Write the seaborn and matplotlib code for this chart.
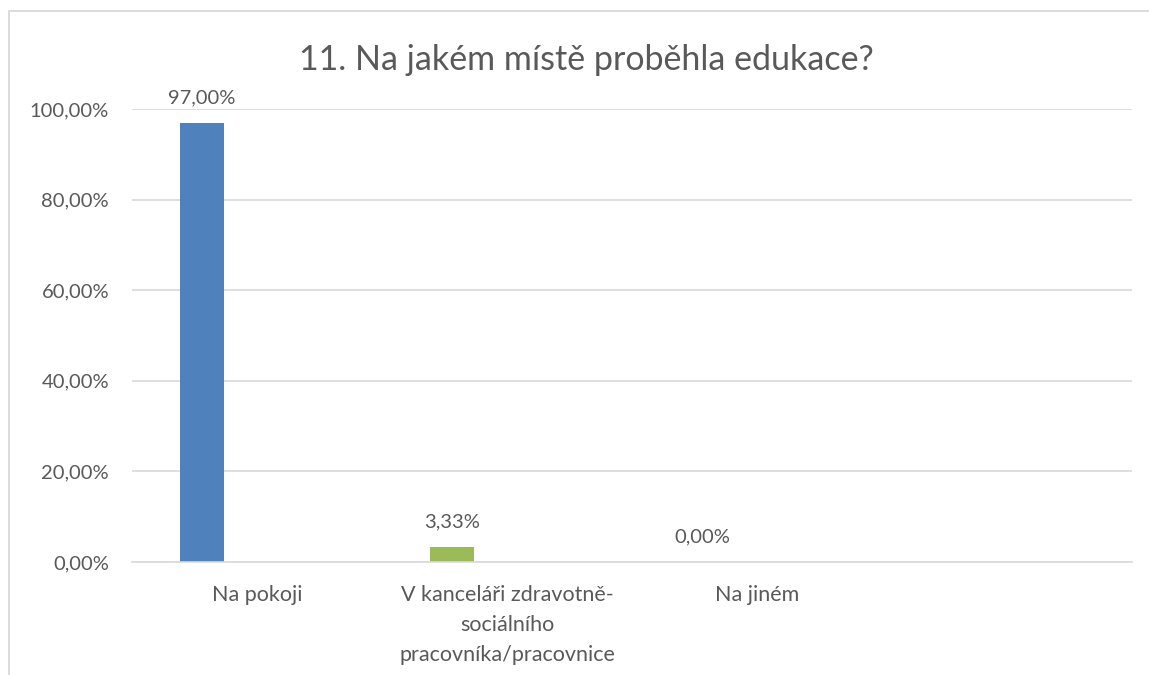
import matplotlib
matplotlib.use("Agg")
import matplotlib.pyplot as plt
from matplotlib.lines import Line2D
import seaborn as sns
import pandas as pd

# ---- data ----
title = "11. Na jakém místě proběhla edukace?"
categories = ["Na pokoji", "V kanceláři zdravotně-\nsociálního\npracovníka/pracovnice", "Na jiném", ""]
values = [97.00, 3.33, 0.00, None]
value_labels = ["97,00%", "3,33%", "0,00%", None]
series = ["Řada1", "Řada2", "Řada3"]
y_ticks = [0, 20, 40, 60, 80, 100]
y_tick_labels = ["0,00%", "20,00%", "40,00%", "60,00%", "80,00%", "100,00%"]

bar_colors = ["#4F81BD", "#9BBB59", "#C0504D"]
text_color = "#595959"
grid_color = "#D9D9D9"

sns.set_theme(style="white")
plt.rcParams["font.family"] = ["Lato", "DejaVu Sans"]

rows = [(c, v, series[0]) for c, v in zip(categories, values) if v is not None]
df = pd.DataFrame(rows, columns=["cat", "val", "ser"])

fig = plt.figure(figsize=(11.49, 6.75), dpi=100)
ax = fig.add_axes([132 / 1149, 1 - 562 / 675, 1000 / 1149, 453 / 675])

sns.barplot(data=df, x="cat", y="val", hue="ser", order=categories,
            hue_order=series, dodge=True, width=0.66, gap=0.2,
            palette=bar_colors, legend=False, ax=ax, saturation=1)

# recolour per point (vary colours by point)
bars = [p for p in ax.patches]
for p, col in zip(bars, bar_colors):
    p.set_facecolor(col)
    p.set_edgecolor("none")

for p, lab in zip(bars, value_labels):
    if lab is None:
        continue
    ax.annotate(lab, (p.get_x() + p.get_width() / 2, p.get_height()),
                xytext=(0, 18), textcoords="offset points",
                ha="center", va="center", fontsize=14.5, color=text_color)

ax.set_ylim(0, 100)
ax.set_xlim(-0.5, len(categories) - 0.5)
ax.set_yticks(y_ticks)
ax.set_yticklabels(y_tick_labels)
ax.yaxis.grid(True, color=grid_color, linewidth=1.2)
ax.set_axisbelow(True)
for s in ["left", "right", "top"]:
    ax.spines[s].set_visible(False)
ax.spines["bottom"].set_color(grid_color)
ax.spines["bottom"].set_linewidth(1.2)
ax.tick_params(axis="both", length=0, colors=text_color)
ax.tick_params(axis="y", pad=16.5, labelsize=14.5)
ax.tick_params(axis="x", pad=16.5, labelsize=15.5)
for t in ax.get_xticklabels():
    t.set_linespacing(1.63)
    t.set_va("top")
ax.set_xlabel("")
ax.set_ylabel("")

fig.text(586 / 1149, 1 - 60 / 675, title, ha="center", va="center",
         fontsize=24.5, color=text_color)

# chart frame (cropped)
fig.add_artist(Line2D([8.5 / 1149, 8.5 / 1149], [0, 1 - 10.5 / 675],
                      transform=fig.transFigure, color=grid_color, lw=1.3))
fig.add_artist(Line2D([8.5 / 1149, 1], [1 - 10.5 / 675, 1 - 10.5 / 675],
                      transform=fig.transFigure, color=grid_color, lw=1.3))

fig.savefig("out.png", dpi=100, facecolor="white")
